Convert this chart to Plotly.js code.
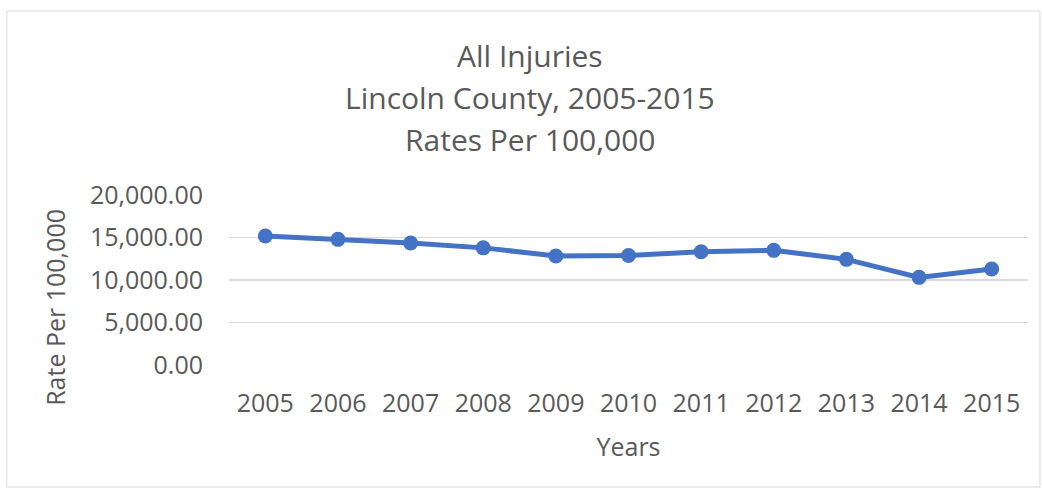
<!DOCTYPE html>
<html>
<head>
<meta charset="utf-8">
<script src="https://cdn.plot.ly/plotly-3.0.1.min.js"></script>
<style>
html,body{margin:0;padding:0;background:#fff;}
#chart{width:1042px;height:489px;}
</style>
</head>
<body>
<div id="chart"></div>
<script>
const titleLines = ['All Injuries', 'Lincoln County, 2005-2015', 'Rates Per 100,000'];
const yAxisTitle = 'Rate Per 100,000';
const xAxisTitle = 'Years';
const years = ['2005','2006','2007','2008','2009','2010','2011','2012','2013','2014','2015'];
const rates = [15180, 14780, 14350, 13780, 12830, 12880, 13330, 13490, 12430, 10310, 11300];
const yTickVals = [0, 5000, 10000, 15000, 20000];
const yTickText = ['0.00', '5,000.00', '10,000.00', '15,000.00', '20,000.00'];

const FONT = 'Open Sans, sans-serif';
const GREY = '#595959';

const trace = {
  x: years,
  y: rates,
  type: 'scatter',
  mode: 'lines+markers',
  line: {color: '#4472C4', width: 5},
  marker: {color: '#4472C4', size: 15},
  hoverinfo: 'x+y'
};

const titleY = [1.818, 1.571, 1.324];
const annotations = titleLines.map((t, i) => ({
  text: t, xref: 'paper', yref: 'paper', x: 0.377, y: titleY[i],
  xanchor: 'center', yanchor: 'middle', showarrow: false,
  font: {size: 30, color: GREY, family: FONT}
}));
annotations.push({
  text: yAxisTitle, xref: 'paper', yref: 'paper',
  x: -0.217, y: 0.34, xanchor: 'center', yanchor: 'middle',
  textangle: -90, showarrow: false,
  font: {size: 25, color: GREY, family: FONT}
});

const layout = {
  width: 1042,
  height: 489,
  paper_bgcolor: '#fff',
  plot_bgcolor: '#fff',
  margin: {l: 229, r: 14, t: 195, b: 124},
  showlegend: false,
  font: {family: FONT, color: GREY},
  annotations: annotations,
  xaxis: {
    type: 'category',
    range: [-0.5, years.length - 0.5],
    showgrid: false,
    zeroline: false,
    showline: false,
    ticks: 'outside', ticklen: 16, tickcolor: 'rgba(0,0,0,0)',
    tickfont: {size: 25, color: GREY},
    title: {text: xAxisTitle, font: {size: 25, color: GREY}, standoff: 20}
  },
  yaxis: {
    range: [0, 20000],
    tickvals: yTickVals,
    ticktext: yTickText,
    showgrid: true,
    gridcolor: '#D9D9D9',
    gridwidth: 1.5,
    zeroline: false,
    showline: false,
    ticks: 'outside', ticklen: 20, tickcolor: 'rgba(0,0,0,0)',
    tickfont: {size: 25, color: GREY}
  },
  shapes: [{
    type: 'rect', xref: 'paper', yref: 'paper',
    x0: -0.278, x1: 1.015, y0: -0.718, y1: 2.082,
    line: {color: '#D9D9D9', width: 1}, fillcolor: 'rgba(0,0,0,0)', layer: 'below'
  }]
};

Plotly.newPlot('chart', [trace], layout, {displayModeBar: false, staticPlot: true});
</script>
</body>
</html>
